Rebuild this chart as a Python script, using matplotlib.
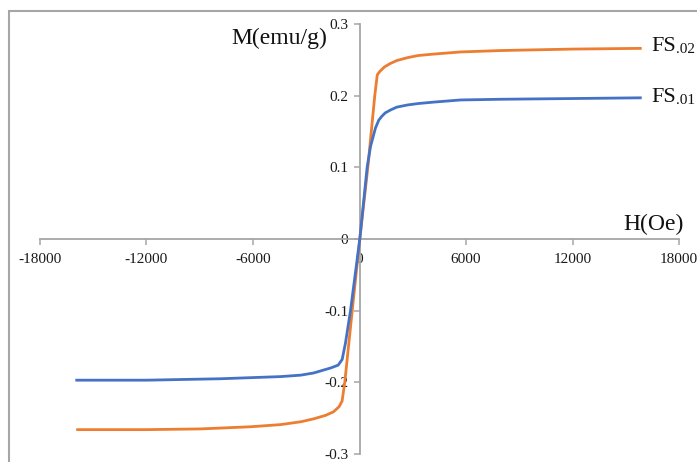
import matplotlib
matplotlib.use("Agg")
import matplotlib.pyplot as plt
from matplotlib.patches import Rectangle

# ---- data ----
fs02_H = [-15880, -12000, -8950, -6140, -4450, -3300, -2590, -1900, -1460, -1150,
          -980, -830, -410, 17, 470, 860, 1000, 1150, 1400, 1745, 2100, 2700,
          3300, 4170, 5690, 8000, 12000, 15820]
fs02_M = [-0.266, -0.266, -0.265, -0.262, -0.259, -0.255, -0.251, -0.246, -0.241,
          -0.234, -0.226, -0.200, -0.100, 0.000, 0.100, 0.200, 0.229, 0.234,
          0.240, 0.245, 0.249, 0.253, 0.256, 0.258, 0.261, 0.263, 0.265, 0.266]

fs01_H = [-15930, -12000, -7830, -4450, -3320, -2590, -1630, -1200, -975, -790,
          -507, 17, 430, 620, 900, 1090, 1250, 1450, 1745, 2100, 2700, 3300,
          4170, 5690, 8000, 12000, 15820]
fs01_M = [-0.197, -0.197, -0.195, -0.192, -0.190, -0.187, -0.180, -0.176, -0.168,
          -0.145, -0.100, 0.000, 0.100, 0.129, 0.155, 0.166, 0.171, 0.176, 0.180,
          0.184, 0.187, 0.189, 0.191, 0.194, 0.195, 0.196, 0.197]

x_ticks = [-18000, -12000, -6000, 0, 6000, 12000, 18000]
x_tick_labels = ["-18000", "-12000", "-6000", "0", "6000", "12000", "18000"]
y_ticks = [-0.3, -0.2, -0.1, 0.0, 0.1, 0.2, 0.3]
y_tick_labels = ["-0.3", "-0.2", "-0.1", "0", "0.1", "0.2", "0.3"]

W, H = 697, 462
fig = plt.figure(figsize=(W / 100, H / 100), dpi=100)
fig.patch.set_facecolor("white")

# outer frame (only top and left edges visible in reference)
fig.patches.append(Rectangle((9 / W, -0.2), 2.0, 1 - 11 / H + 0.2,
                             transform=fig.transFigure, fill=False,
                             edgecolor="#a6a6a6", linewidth=1.5))

ax = fig.add_axes([40 / W, 8 / H, 639 / W, 430 / H])
ax.set_facecolor("none")

orange = "#ED7D31"
blue = "#4472C4"
ax.plot(fs02_H, fs02_M, color=orange, lw=2.0, clip_on=False, zorder=3,
        solid_joinstyle="round")
ax.plot(fs01_H, fs01_M, color=blue, lw=2.0, clip_on=False, zorder=3,
        solid_joinstyle="round")

ax.set_xlim(-18000, 18000)
ax.set_ylim(-0.3, 0.3)

for s in ("top", "right"):
    ax.spines[s].set_visible(False)
ax.spines["left"].set_position(("data", 0))
ax.spines["bottom"].set_position(("data", 0))
for s in ("left", "bottom"):
    ax.spines[s].set_color("#a6a6a6")
    ax.spines[s].set_linewidth(1.3)

ax.set_xticks(x_ticks)
ax.set_xticklabels(x_tick_labels)
ax.set_yticks(y_ticks)
ax.set_yticklabels(y_tick_labels)
ax.tick_params(axis="both", direction="out", length=4, width=1.1,
               color="#a6a6a6", labelsize=11, labelcolor="#1a1a1a")
ax.tick_params(axis="x", pad=6)
ax.tick_params(axis="y", pad=4)
for lab in ax.get_xticklabels() + ax.get_yticklabels():
    lab.set_fontfamily("Liberation Serif")

serif = "Liberation Serif"
# axis titles
fig.text(327 / W, 1 - 44 / H, "M(emu/g)", ha="right", va="baseline",
         fontsize=17, family=serif, color="#111111")
fig.text(623 / W, 1 - 230 / H, "H(Oe)", ha="left", va="baseline",
         fontsize=17, family=serif, color="#111111")

# series labels with subscripts
for txt, sub, ybase in (("FS", ".02", 51), ("FS", ".01", 102)):
    t = fig.text(651 / W, 1 - ybase / H, txt, ha="left", va="baseline",
                 fontsize=16, family=serif, color="#111111")
    ax.annotate(sub, xy=(1, 0), xycoords=t, ha="left", va="bottom",
                fontsize=11, family=serif, color="#111111",
                annotation_clip=False)

fig.savefig("out.png", dpi=100)
